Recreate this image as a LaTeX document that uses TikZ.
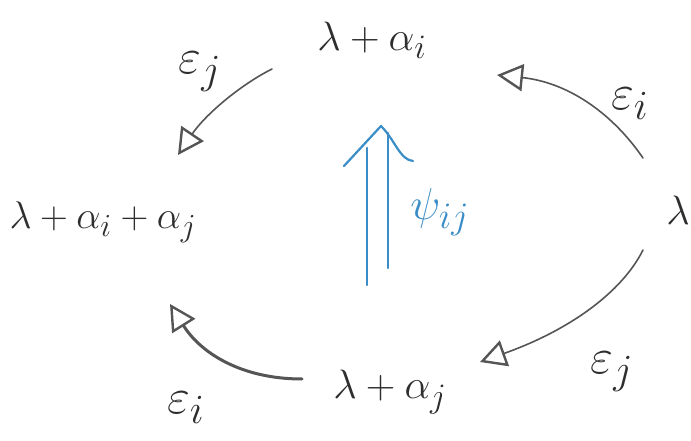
\documentclass[tikz,border=0pt]{standalone}
\usepackage{graphicx}
\usetikzlibrary{arrows.meta}
\definecolor{ink}{HTML}{2E2E2E}
\definecolor{pen}{HTML}{555555}
\definecolor{bluepen}{HTML}{3B8DC8}
\newcommand{\hwbig}[1]{\scalebox{1.65}{$#1$}}
\newcommand{\hwlbl}[1]{\scalebox{2.0}{$#1$}}
\tikzset{
  wt/.style={inner sep=0pt, text=ink, font=\Huge},
  lbl/.style={inner sep=0pt, text=ink, font=\Huge},
  morph/.style={draw=pen, line width=1.6pt, line cap=round,
     -{Triangle[open, length=26pt, width=27pt, line width=2.4pt]}},
  thickmorph/.style={morph, line width=3pt},
  twocell/.style={draw=bluepen, line width=2.2pt, line cap=round, line join=round}
}
\begin{document}
\begin{tikzpicture}[x=1pt,y=-1pt]
\useasboundingbox (0,0) rectangle (691,441);
% objects
\node[wt] (top) at (372,40) {\hwbig{\lambda+\alpha_i}};
\node[wt] (left) at (103,222) {\scalebox{1.55}{$\lambda+\alpha_i+\alpha_j$}};
\node[wt] (right) at (678,210) {\hwbig{\lambda}};
\node[wt] (bot) at (390,392) {\hwbig{\lambda+\alpha_j}};
% labels
\node[lbl] (ej1) at (200,72) {\hwlbl{\varepsilon_j}};
\node[lbl] (ei1) at (630,104) {\hwlbl{\varepsilon_i}};
\node[lbl] (ej2) at (612,372) {\hwlbl{\varepsilon_j}};
\node[lbl] (ei2) at (186,408) {\hwlbl{\varepsilon_i}};
\node[lbl, text=bluepen] (psi) at (440,212) {\scalebox{1.8}{$\psi_{ij}$}};
% connector end points
\coordinate (a1) at (272,69);
\coordinate (a2) at (178,155);
\coordinate (b1) at (643,158);
\coordinate (b2) at (497,75);
\coordinate (c1) at (643,250);
\coordinate (c2) at (480,362);
\coordinate (d1) at (302,379);
\coordinate (d2) at (170,304);
% morphisms
\draw[morph] (a1) .. controls (240,85) and (205,115) .. (a2);
\draw[morph] (b1) .. controls (610,110) and (565,82) .. (b2);
\draw[morph] (c1) .. controls (622,292) and (570,330) .. (c2);
\draw[thickmorph] (d1) .. controls (240,379) and (200,352) .. (d2);
% 2-cell
\coordinate (tip) at (381,126);
\coordinate (la) at (344,166);
\coordinate (ra) at (413,161);
\coordinate (l1) at (367,285);
\coordinate (l2) at (367,148);
\coordinate (r1) at (388,268);
\coordinate (r2) at (388,133);
\draw[twocell] (l1) -- (l2);
\draw[twocell] (r1) -- (r2);
\draw[twocell] (la) -- (tip) .. controls (395,140) and (400,160) .. (ra);
\end{tikzpicture}
\end{document}
